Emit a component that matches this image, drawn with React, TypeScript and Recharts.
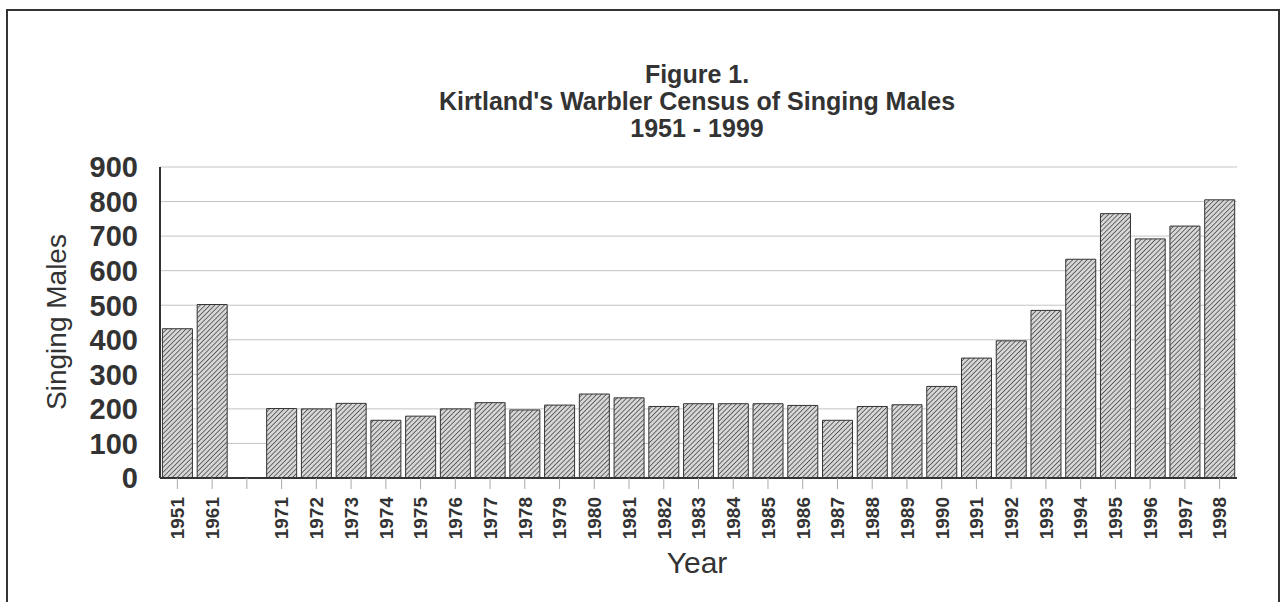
import { Bar, BarChart, CartesianGrid, XAxis, YAxis } from "recharts";

// census years (blank slot = no count between 1961 and 1971)
const years = [
  "1951", "1961", "",
  "1971", "1972", "1973", "1974", "1975", "1976", "1977", "1978", "1979", "1980",
  "1981", "1982", "1983", "1984", "1985", "1986", "1987", "1988", "1989", "1990",
  "1991", "1992", "1993", "1994", "1995", "1996", "1997", "1998",
];

const singingMales: (number | null)[] = [
  432, 502, null,
  201, 200, 216, 167, 179, 200, 218, 197, 211, 243,
  232, 207, 215, 215, 215, 210, 167, 207, 212, 265,
  347, 397, 485, 633, 765, 692, 729, 805,
];

const yTicks = [0, 100, 200, 300, 400, 500, 600, 700, 800, 900];

const titleLines = ["Figure 1.", "Kirtland's Warbler Census of Singing Males", "1951 - 1999"];

const data = years.map((year, i) => ({ year, males: singingMales[i] }));

const FONT = '"Liberation Sans", Arial, sans-serif';
const INK = "#333";

function YearTick({ x, y, payload }: any) {
  return (
    <text
      x={x}
      y={y}
      transform={`rotate(-90 ${x} ${y})`}
      textAnchor="end"
      dy="0.36em"
      fontFamily={FONT}
      fontWeight="bold"
      fontSize={19}
      fill={INK}
    >
      {payload.value}
    </text>
  );
}

export default function App() {
  return (
    <div
      style={{
        position: "absolute",
        left: 0,
        top: 0,
        width: 1284,
        height: 602,
        overflow: "hidden",
        background: "#fff",
        fontFamily: FONT,
        color: INK,
      }}
    >
      <div
        style={{
          position: "absolute",
          left: 6,
          top: 9,
          width: 1274,
          height: 700,
          border: "2px solid #333",
          boxSizing: "border-box",
        }}
      />
      <div
        style={{
          position: "absolute",
          left: 0,
          width: 1394,
          top: 61,
          textAlign: "center",
          fontWeight: "bold",
          fontSize: 25,
          lineHeight: "27px",
        }}
      >
        {titleLines.map((t) => (
          <div key={t}>{t}</div>
        ))}
      </div>
      <div
        style={{
          position: "absolute",
          left: 57,
          top: 322,
          transform: "translate(-50%, -50%) rotate(-90deg)",
          whiteSpace: "nowrap",
          fontSize: 28,
          lineHeight: 1,
        }}
      >
        Singing Males
      </div>
      <div
        style={{
          position: "absolute",
          left: 697,
          top: 563,
          transform: "translate(-50%, -50%)",
          fontSize: 30,
          lineHeight: 1,
        }}
      >
        Year
      </div>
      <BarChart
        width={1284}
        height={602}
        data={data}
        margin={{ top: 167, right: 47, bottom: 0, left: 0 }}
        barCategoryGap="7%"
        style={{ position: "absolute", left: 0, top: 0 }}
      >
        <defs>
          <pattern
            id="hatch"
            patternUnits="userSpaceOnUse"
            width="3.4"
            height="3.4"
            patternTransform="rotate(45)"
          >
            <rect width="3.4" height="3.4" fill="#d6d6d6" />
            <line x1="0" y1="0" x2="0" y2="3.4" stroke="#3a3a3a" strokeWidth="1.4" />
          </pattern>
        </defs>
        <CartesianGrid vertical={false} stroke="#c4c4c4" />
        <XAxis
          dataKey="year"
          height={124}
          interval={0}
          tick={<YearTick />}
          tickSize={11}
          tickMargin={8}
          tickLine={{ stroke: "#aaa" }}
          axisLine={{ stroke: INK, strokeWidth: 2 }}
        />
        <YAxis
          width={160}
          domain={[0, 900]}
          ticks={yTicks}
          interval={0}
          tickLine={false}
          tickMargin={16}
          axisLine={{ stroke: INK, strokeWidth: 2 }}
          tick={{ fill: INK, fontSize: 29, fontWeight: "bold", fontFamily: FONT }}
        />
        <YAxis
          yAxisId="frame"
          orientation="right"
          width={0}
          domain={[0, 900]}
          tick={false}
          tickLine={false}
          axisLine={{ stroke: "#b8b8b8" }}
        />
        <Bar
          dataKey="males"
          fill="url(#hatch)"
          stroke="#333"
          strokeWidth={1}
          isAnimationActive={false}
        />
      </BarChart>
    </div>
  );
}
